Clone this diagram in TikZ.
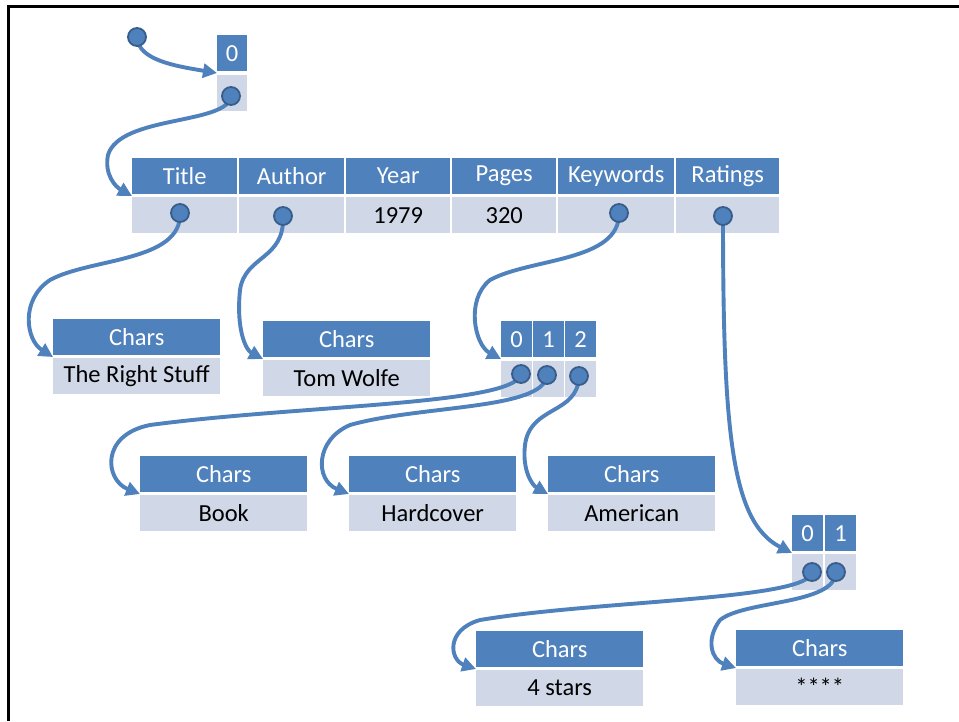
\documentclass[tikz,border=0pt]{standalone}
\usepackage{fontspec}
\setmainfont{Carlito}
\usetikzlibrary{arrows.meta}
\definecolor{hb}{HTML}{4F81BD}
\definecolor{bb}{HTML}{D0D8E8}
\definecolor{rim}{HTML}{385D8A}
\tikzset{
  cell/.style={inner sep=0pt, anchor=north west, minimum height=36pt,
    font=\fontsize{24.5}{27}\selectfont},
  hdr/.style={cell, fill=hb, text=white},
  bdy/.style={cell, fill=bb, text=black},
  dot/.style={circle, inner sep=0pt, minimum size=18pt, fill=hb, draw=rim, line width=1.8pt},
  link/.style={draw=hb, line width=3.9pt, -{Triangle[length=14pt,width=14pt]}},
}
% a "Chars" record: name, left x, top y, body text
\newcommand\charsbox[4]{%
  \node[hdr, minimum width=167pt] (#1h) at (#2,#3) {Chars};
  \node[bdy, minimum width=167pt] (#1b) at (#2,#3+39) {#4};
}
\begin{document}
\begin{tikzpicture}[x=1pt,y=-1pt]
\useasboundingbox (0,0) rectangle (959,721);
\fill[white] (0,0) rectangle (959,721);
\draw[line width=3pt] (8,721) -- (8,6) -- (959,6);

% one-element array
\node[hdr, minimum width=30pt] (a0h) at (217,35) {0};
\node[bdy, minimum width=30pt] (a0b) at (217,75) {};

% book record
\foreach \nm/\x/\w/\lab/\val in {title/132/105/Title/, author/239/105/Author/,
    year/346/104/Year/1979, pages/452/104/Pages/320,
    keywords/558/116/Keywords/, ratings/676/103/Ratings/}{
  \node[hdr, minimum width=\w pt] (\nm h) at (\x,158) {\lab};
  \node[bdy, minimum width=\w pt] (\nm b) at (\x,197) {\val};
}

% strings
\charsbox{s1}{53}{319}{The Right Stuff}
\charsbox{s2}{263}{321}{Tom Wolfe}
\charsbox{s3}{140}{456}{Book}
\charsbox{s4}{349}{456}{Hardcover}
\charsbox{s5}{548}{456}{American}
\charsbox{s6}{476}{631}{4 stars}
\charsbox{s7}{736}{630}{****}

% keyword array
\foreach \i/\x in {0/501,1/533,2/565}{
  \node[hdr, minimum width=31pt] (k\i h) at (\x,321) {\i};
  \node[bdy, minimum width=31pt] (k\i b) at (\x,361) {};
}
% ratings array
\foreach \i/\x in {0/792,1/825}{
  \node[hdr, minimum width=31pt] (r\i h) at (\x,515) {\i};
  \node[bdy, minimum width=31pt] (r\i b) at (\x,554) {};
}

% pointer origins
\coordinate (pRoot) at (137,37);
\coordinate (pA0) at (231,96);
\coordinate (pTitle) at (180,213);
\coordinate (pAuthor) at (283,216);
\coordinate (pKey) at (619,213);
\coordinate (pRat) at (723,216);
\coordinate (pK0) at (521,374);
\coordinate (pK1) at (547,375);
\coordinate (pK2) at (579,376);
\coordinate (pR0) at (812,572);
\coordinate (pR1) at (836,572);

% pointer targets
\coordinate (tA0) at (217,73);
\coordinate (tRec) at (132,196);
\coordinate (tS1) at (53,357);
\coordinate (tS2) at (263,359);
\coordinate (tK) at (501,359);
\coordinate (tR) at (792,553);
\coordinate (tS3) at (140,494);
\coordinate (tS4) at (349,494);
\coordinate (tS5) at (548,494);
\coordinate (tS6) at (476,669);
\coordinate (tS7) at (736,668);

% connectors
\draw[link] (pRoot) .. controls (138,60) and (175,66) .. (tA0);
\draw[link] (pA0) .. controls (228,125) and (120,115) .. (108,155)
            .. controls (104,175) and (116,187) .. (tRec);
\draw[link] (pTitle) .. controls (182,262) and (90,258) .. (50,280)
            .. controls (20,300) and (26,340) .. (tS1);
\draw[link] (pAuthor) .. controls (285,260) and (245,255) .. (240,290)
            .. controls (236,330) and (246,350) .. (tS2);
\draw[link] (pKey) .. controls (620,262) and (530,258) .. (490,280)
            .. controls (465,300) and (475,345) .. (tK);
\draw[link] (pRat) .. controls (723,430) and (731,522) .. (tR);
\draw[link] (pK0) .. controls (515,405) and (300,405) .. (150,425)
            .. controls (100,435) and (105,480) .. (tS3);
\draw[link] (pK1) .. controls (545,410) and (420,405) .. (350,425)
            .. controls (315,440) and (315,480) .. (tS4);
\draw[link] (pK2) .. controls (578,415) and (530,405) .. (525,445)
            .. controls (522,470) and (532,485) .. (tS5);
\draw[link] (pR0) .. controls (810,600) and (600,600) .. (480,620)
            .. controls (445,630) and (450,660) .. (tS6);
\draw[link] (pR1) .. controls (835,605) and (745,600) .. (720,620)
            .. controls (705,640) and (712,660) .. (tS7);

% pointer dots
\foreach \p in {Root,A0,Title,Author,Key,Rat,K0,K1,K2,R0,R1}{
  \node[dot] (d\p) at (p\p) {};
}
\end{tikzpicture}
\end{document}
